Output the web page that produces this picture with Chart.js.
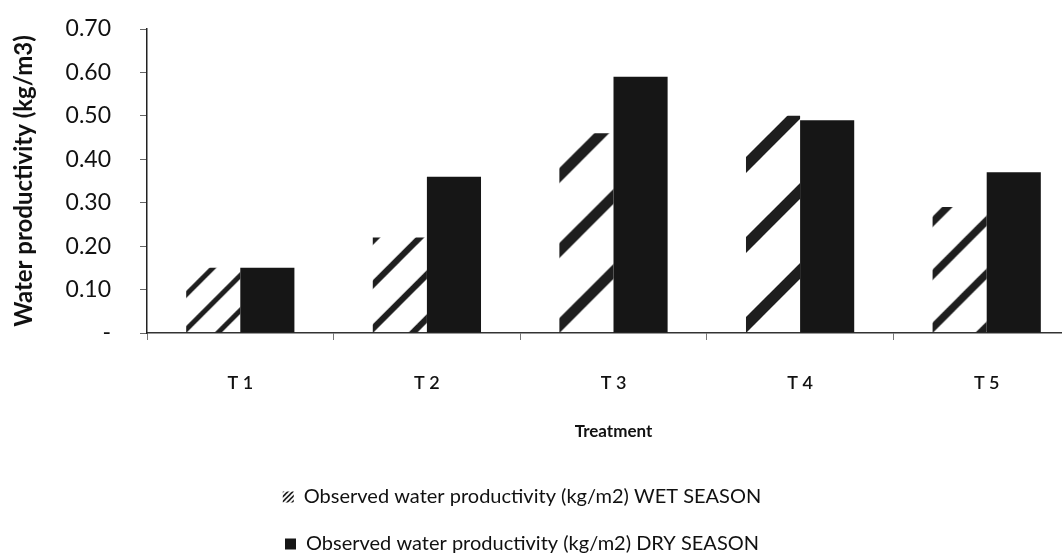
<!DOCTYPE html>
<html>
<head>
<meta charset="utf-8">
<script src="https://cdn.jsdelivr.net/npm/chart.js@4.4.1/dist/chart.umd.min.js"></script>
<style>
  html, body { margin: 0; padding: 0; background: #fff; overflow: hidden; width: 1062px; height: 558px; }
  #wrap { width: 1080px; height: 564px; }
</style>
</head>
<body>
<div id="wrap"><canvas id="c" width="1080" height="564"></canvas></div>
<script>
// Water productivity by treatment, wet vs dry season
const categories = ['T 1', 'T 2', 'T 3', 'T 4', 'T 5'];
const wetSeason = [0.15, 0.22, 0.46, 0.50, 0.29];
const drySeason = [0.15, 0.36, 0.59, 0.49, 0.37];
const yTickLabels = ['-', '0.10', '0.20', '0.30', '0.40', '0.50', '0.60', '0.70'];
const seriesNames = [
  'Observed water productivity (kg/m2) WET SEASON',
  'Observed water productivity (kg/m2) DRY SEASON'
];

const FONT = 'Lato, "Open Sans", sans-serif';
const INK = '#111111';
const DARK = '#161616';
const CAT_PCT = 0.58;

// Diagonal "/" hatch tile; the stripe period is scaled to each bar
const tileCache = {};
function hatchTile(period, width) {
  const p = Math.max(5, Math.round(period));
  const key = p + ':' + width;
  if (tileCache[key]) return tileCache[key];
  const c = document.createElement('canvas');
  c.width = c.height = p;
  const g = c.getContext('2d');
  g.strokeStyle = '#1e1e1e';
  g.lineWidth = width;
  const off = p * 0.9;
  for (let k = -2; k <= 2; k++) {
    const s = off + k * p;
    g.beginPath();
    g.moveTo(s - 2 * p, 2 * p);
    g.lineTo(s + 2 * p, -2 * p);
    g.stroke();
  }
  tileCache[key] = c;
  return c;
}

function wetFill(ctx) {
  const chart = ctx.chart;
  const xs = chart.scales.x, ys = chart.scales.y;
  if (!xs || !ys || ctx.dataIndex === undefined) return '#ffffff';
  const i = ctx.dataIndex;
  const barW = xs.width / categories.length * CAT_PCT / 2;
  const left = xs.getPixelForValue(i) - barW;
  const base = ys.getPixelForValue(0);
  const h = base - ys.getPixelForValue(wetSeason[i]);
  const period = (h + barW) / 3.4;
  const pat = chart.ctx.createPattern(hatchTile(period, Math.max(2, period * 0.14)), 'repeat');
  pat.setTransform(new DOMMatrix().translate(left, base));
  return pat;
}

let legendHatch = null;
function legendFill(chart) {
  if (!legendHatch) legendHatch = chart.ctx.createPattern(hatchTile(5, 1.6), 'repeat');
  return legendHatch;
}

// Re-centre the wrapped two-row legend beneath the plot
const legendPlacement = {
  id: 'legendPlacement',
  afterLayout(chart) {
    const lg = chart.legend;
    if (!lg) return;
    lg.left = 0;
    lg.right = 1044;
    lg.width = lg.right - lg.left;
  }
};

new Chart(document.getElementById('c'), {
  type: 'bar',
  data: {
    labels: categories,
    datasets: [
      {
        label: seriesNames[0],
        data: wetSeason,
        backgroundColor: wetFill,
        borderWidth: 0,
        categoryPercentage: CAT_PCT,
        barPercentage: 1
      },
      {
        label: seriesNames[1],
        data: drySeason,
        backgroundColor: DARK,
        borderWidth: 0,
        categoryPercentage: CAT_PCT,
        barPercentage: 1
      }
    ]
  },
  options: {
    responsive: false,
    animation: false,
    devicePixelRatio: 1,
    layout: { padding: { top: 29, left: 0, right: 0, bottom: 0 } },
    plugins: {
      tooltip: { enabled: false },
      legend: {
        position: 'bottom',
        fullSize: false,
        labels: {
          color: INK,
          font: { family: FONT, size: 20 },
          boxWidth: 11,
          boxHeight: 11,
          padding: 27,
          generateLabels(chart) {
            return seriesNames.map((t, i) => ({
              text: t,
              fillStyle: i === 0 ? legendFill(chart) : DARK,
              strokeStyle: 'rgba(0,0,0,0)',
              lineWidth: 0,
              hidden: false,
              datasetIndex: i,
              fontColor: INK
            }));
          }
        }
      }
    },
    scales: {
      x: {
        ticks: { padding: 32, color: INK, font: { family: FONT, size: 18, weight: '600' } },
        grid: { drawOnChartArea: false, tickLength: 7, color: '#777', offset: true },
        border: { color: '#333', width: 1.5 },
        title: {
          display: true, text: 'Treatment', color: INK,
          font: { family: FONT, size: 17, weight: 'bold' },
          padding: { top: 0, bottom: 18 }
        },
        afterFit(s) { s.height = 127; s.paddingLeft = 0; s.paddingRight = 0; }
      },
      y: {
        min: 0,
        max: 0.7,
        ticks: {
          stepSize: 0.1, padding: 29, color: INK,
          font: { family: FONT, size: 23 },
          callback: (v, i) => yTickLabels[i]
        },
        grid: { drawOnChartArea: false, tickLength: 7, color: '#666' },
        border: { color: '#222', width: 1.5 },
        title: {
          display: true, text: 'Water productivity (kg/m3)', color: INK,
          font: { family: FONT, size: 24, weight: 'bold' },
          padding: { top: 10, bottom: 0 }
        },
        afterFit(s) { s.width = 147; s.paddingTop = 14; s.paddingBottom = 14; }
      }
    }
  },
  plugins: [legendPlacement]
});
</script>
</body>
</html>
